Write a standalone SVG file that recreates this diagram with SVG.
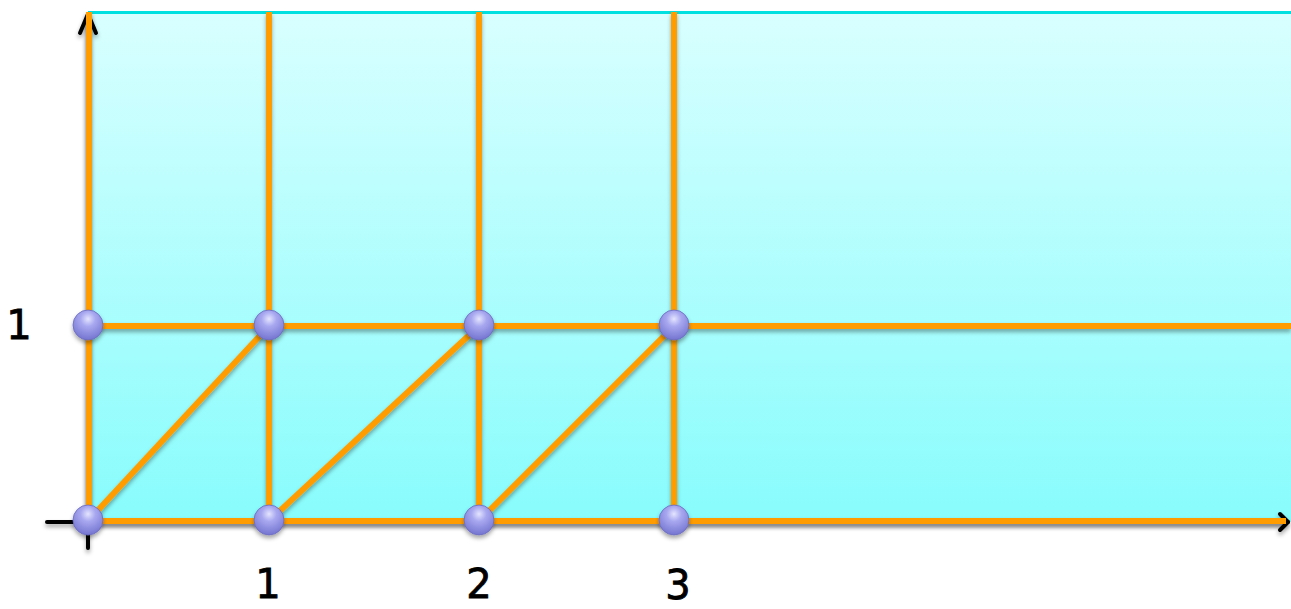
<svg xmlns="http://www.w3.org/2000/svg" width="1291" height="609" viewBox="0 0 1291 609">
<style>
.ax{stroke:#000;stroke-width:4;fill:none;stroke-linecap:round;stroke-linejoin:round}
.or{stroke:#ff9d00;stroke-width:6;fill:none}
.lbl{font-family:"DejaVu Sans","Liberation Sans",sans-serif;font-size:40px;fill:#000;stroke:#000;stroke-width:0.8;text-anchor:middle}
.pt{fill:url(#ball);stroke:#6a6ac0;stroke-width:0.8}
</style>
<defs>
<linearGradient id="bg" x1="0" y1="0" x2="0" y2="1">
<stop offset="0" stop-color="#d9ffff"/>
<stop offset="1" stop-color="#88fcfc"/>
</linearGradient>
<radialGradient id="ball" cx="0.5" cy="0.3" r="0.7">
<stop offset="0" stop-color="#e4e4ff"/>
<stop offset="0.35" stop-color="#a8a8f0"/>
<stop offset="1" stop-color="#7474d0"/>
</radialGradient>
<filter id="sh" x="-10%" y="-10%" width="120%" height="130%">
<feDropShadow dx="0" dy="3" stdDeviation="2" flood-color="#000" flood-opacity="0.35"/>
</filter>
</defs>
<g id="background">
<rect x="88" y="12" width="1203" height="510" fill="url(#bg)"/>
<line x1="88" y1="12.5" x2="1291" y2="12.5" stroke="#00e0e0" stroke-width="3"/>
</g>
<g id="axes" filter="url(#sh)">
<line class="ax" x1="88" y1="14" x2="88" y2="548"/>
<polyline class="ax" points="80,33 88,14 96,33"/>
<line class="ax" x1="47" y1="522" x2="1288" y2="522"/>
<polyline class="ax" points="1280,514 1288,522 1280,530"/>
</g>
<g id="connectors" filter="url(#sh)">
<line class="or" x1="89" y1="12" x2="89" y2="521"/>
<line class="or" x1="269" y1="12" x2="269" y2="521"/>
<line class="or" x1="479" y1="12" x2="479" y2="521"/>
<line class="or" x1="674" y1="12" x2="674" y2="521"/>
<line class="or" x1="88" y1="326" x2="1291" y2="326"/>
<line class="or" x1="88" y1="521" x2="1286" y2="521"/>
<line class="or" x1="88" y1="521" x2="269" y2="326"/>
<line class="or" x1="269" y1="521" x2="479" y2="326"/>
<line class="or" x1="479" y1="521" x2="674" y2="326"/>
</g>
<g id="points" filter="url(#sh)">
<g id="p00"><circle class="pt" cx="88" cy="520" r="15"/></g>
<g id="p10"><circle class="pt" cx="269" cy="520" r="15"/></g>
<g id="p20"><circle class="pt" cx="479" cy="520" r="15"/></g>
<g id="p30"><circle class="pt" cx="674" cy="520" r="15"/></g>
<g id="p01"><circle class="pt" cx="88" cy="325" r="15"/></g>
<g id="p11"><circle class="pt" cx="269" cy="325" r="15"/></g>
<g id="p21"><circle class="pt" cx="479" cy="325" r="15"/></g>
<g id="p31"><circle class="pt" cx="674" cy="325" r="15"/></g>
</g>
<g id="labels">
<text class="lbl" x="19" y="339">1</text>
<text class="lbl" x="268" y="598">1</text>
<text class="lbl" x="479" y="598">2</text>
<text class="lbl" x="678" y="599">3</text>
</g>
</svg>
